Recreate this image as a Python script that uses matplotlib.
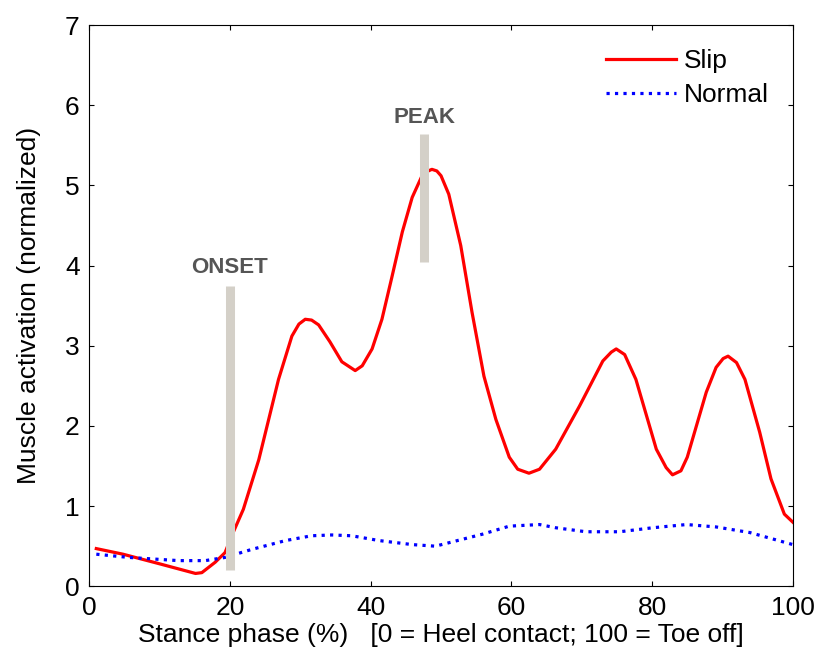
import matplotlib
matplotlib.use('Agg')
import matplotlib.pyplot as plt

plt.rcParams['font.family'] = ['Liberation Sans', 'DejaVu Sans']

# slip trial
slip_x = [1, 4.8, 10, 15.1, 16, 17.9, 19.3, 20.2, 21.9, 24.1, 26.9, 28.8, 29.8, 30.7, 31.6, 32.6, 34.2, 35.9,
          37.8, 38.8, 40.2, 41.6, 43.0, 44.5, 45.9, 47.3, 48.2, 48.7, 49.4, 50.0, 51.1, 52.8, 54.4, 56.1,
          57.8, 59.7, 60.9, 62.5, 64.0, 66.3, 69.7, 73.0, 74.2, 74.9, 76.1, 77.7, 80.6, 82.0,
          82.9, 84.1, 85.0, 87.7, 89.1, 90.1, 90.8, 92.0, 93.2, 95.3, 96.9, 98.8, 100]
slip_y = [0.47, 0.40, 0.28, 0.16, 0.17, 0.30, 0.42, 0.62, 0.96, 1.58, 2.58, 3.12, 3.27, 3.33, 3.32, 3.26, 3.05, 2.80,
          2.69, 2.75, 2.96, 3.33, 3.85, 4.42, 4.85, 5.12, 5.18, 5.20, 5.18, 5.12, 4.89, 4.25, 3.42, 2.62,
          2.08, 1.61, 1.46, 1.41, 1.46, 1.71, 2.25, 2.81, 2.92, 2.96, 2.89, 2.58, 1.71, 1.48,
          1.39, 1.44, 1.61, 2.42, 2.73, 2.84, 2.87, 2.79, 2.58, 1.92, 1.34, 0.90, 0.80]

# normal walking
norm_x = [1, 5.6, 12.7, 16.5, 19.3, 23.1, 27.9, 31.6, 34.5, 37.3, 41.2, 45.9, 49.2,
          55.9, 59.7, 64.0, 66.3, 70.6, 75.4, 80.1, 84.9, 89.1, 93.9, 100]
norm_y = [0.40, 0.36, 0.32, 0.32, 0.36, 0.46, 0.57, 0.63, 0.64, 0.63, 0.57, 0.52, 0.50,
          0.65, 0.75, 0.77, 0.73, 0.68, 0.68, 0.73, 0.77, 0.74, 0.67, 0.52]

# markers
onset_x, onset_y = 20.0, [0.20, 3.75]
peak_x, peak_y = 47.6, [4.05, 5.64]

fig = plt.figure(figsize=(8.19, 6.58), dpi=100)
ax = fig.add_axes([0.109, 0.109, 0.859, 0.853])

ax.plot(slip_x, slip_y, color='r', lw=2.3, label='Slip')
ax.plot(norm_x, norm_y, color='b', lw=2.3, ls=':', label='Normal')

ax.plot([onset_x, onset_x], onset_y, color='#d4d0c8', lw=6.5, solid_capstyle='butt')
ax.plot([peak_x, peak_x], peak_y, color='#d4d0c8', lw=6.5, solid_capstyle='butt')
ax.text(onset_x, 3.84, 'ONSET', ha='center', va='bottom', fontsize=16,
        fontweight='bold', color='#555555')
ax.text(peak_x, 5.72, 'PEAK', ha='center', va='bottom', fontsize=16,
        fontweight='bold', color='#555555')

ax.set_xlim(0, 100)
ax.set_ylim(0, 7)
ax.set_xticks([0, 20, 40, 60, 80, 100])
ax.set_yticks(range(8))
ax.tick_params(direction='in', top=True, right=True, length=3.5, labelsize=19, pad=7)

ax.set_xlabel('Stance phase (%)   [0 = Heel contact; 100 = Toe off]', fontsize=19, labelpad=2)
ax.set_ylabel('Muscle activation (normalized)', fontsize=19, labelpad=17)

ax.legend(loc='upper right', frameon=False, fontsize=19, handlelength=2.65,
          handletextpad=0.3, labelspacing=0.4)

fig.savefig('out.png', dpi=100)
